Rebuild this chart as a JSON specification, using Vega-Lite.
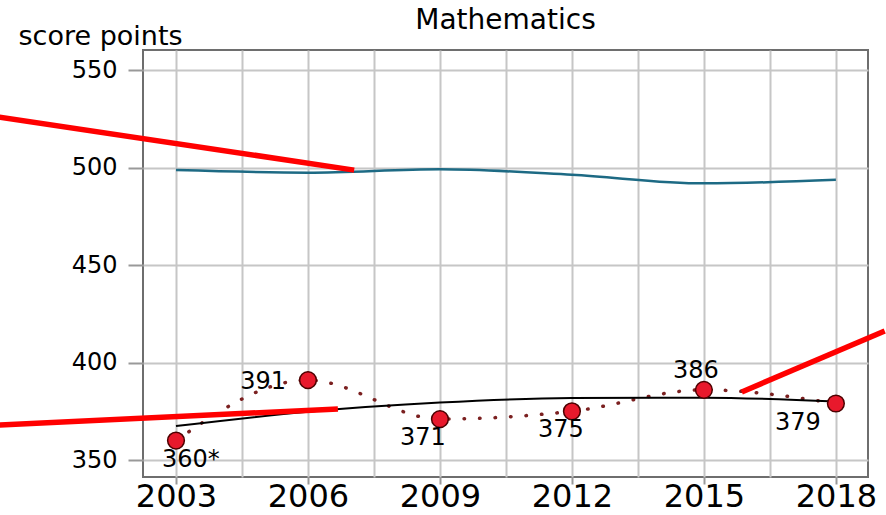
{
  "$schema": "https://vega.github.io/schema/vega-lite/v6.json",
  "width": 725,
  "height": 427,
  "autosize": "none",
  "padding": {"left": 143, "top": 50, "right": 18, "bottom": 38},
  "background": "white",
  "config": {
    "view": {"stroke": "#6e6e6e", "strokeWidth": 2},
    "font": "DejaVu Sans"
  },
  "title": {
    "text": "Mathematics",
    "fontSize": 28,
    "font": "DejaVu Sans",
    "fontWeight": "normal",
    "color": "black",
    "anchor": "middle",
    "frame": "group",
    "baseline": "alphabetic",
    "offset": -35
  },
  "datasets": {
    "country": [
      {"year": 2003, "score": 360, "label": "360*"},
      {"year": 2006, "score": 391, "label": "391"},
      {"year": 2009, "score": 371, "label": "371"},
      {"year": 2012, "score": 375, "label": "375"},
      {"year": 2015, "score": 386, "label": "386"},
      {"year": 2018, "score": 379, "label": "379"}
    ],
    "oecd": [
      {"year": 2003, "score": 498.7},
      {"year": 2006, "score": 497.4},
      {"year": 2009, "score": 499.1},
      {"year": 2012, "score": 496.3},
      {"year": 2015, "score": 491.9},
      {"year": 2018, "score": 493.7}
    ],
    "trend": [
      {"year": 2003, "score": 367.4},
      {"year": 2006, "score": 374.8},
      {"year": 2009, "score": 379.5},
      {"year": 2012, "score": 381.8},
      {"year": 2015, "score": 382.0},
      {"year": 2018, "score": 380.0}
    ],
    "arrows": [
      {"id": "a", "year": 1998.98, "score": 525.9},
      {"id": "a", "year": 2007.05, "score": 498.7},
      {"id": "b", "year": 1998.98, "score": 367.9},
      {"id": "b", "year": 2006.68, "score": 376.2},
      {"id": "c", "year": 2019.11, "score": 416.2},
      {"id": "c", "year": 2015.86, "score": 384.9}
    ]
  },
  "encoding": {
    "x": {
      "field": "year",
      "type": "quantitative",
      "scale": {"domain": [2002.25, 2018.73], "nice": false, "zero": false},
      "axis": {
        "title": null,
        "values": [2003, 2004.5, 2006, 2007.5, 2009, 2010.5, 2012, 2013.5, 2015, 2016.5, 2018],
        "grid": true,
        "gridColor": "#c6c6c6",
        "gridWidth": 2,
        "domain": false,
        "labelExpr": "datum.value % 3 == 2 ? '' + datum.value : ''",
        "labelOverlap": false,
        "labelFlush": false,
        "labelFontSize": 32,
        "labelColor": "black",
        "labelBaseline": "alphabetic",
        "labelPadding": 22,
        "tickSize": 7,
        "tickWidth": 2,
        "tickColor": {"condition": {"test": "datum.value % 3 == 2", "value": "#999999"}, "value": "transparent"}
      }
    },
    "y": {
      "field": "score",
      "type": "quantitative",
      "scale": {"domain": [341.3, 560.3], "nice": false, "zero": false},
      "axis": {
        "title": "score points",
        "titleAngle": 0,
        "titleAlign": "left",
        "titleBaseline": "alphabetic",
        "titleX": -125,
        "titleY": -6,
        "titleFontSize": 27,
        "titleFontWeight": "normal",
        "titleColor": "black",
        "values": [350, 400, 450, 500, 550],
        "format": "d",
        "grid": true,
        "gridColor": "#c6c6c6",
        "gridWidth": 2,
        "domain": false,
        "tickColor": "#999999",
        "tickSize": 15,
        "tickWidth": 2,
        "labelPadding": 11,
        "labelFontSize": 24,
        "labelColor": "black"
      }
    }
  },
  "layer": [
    {
      "data": {"name": "oecd"},
      "mark": {"type": "line", "color": "#1d6a84", "strokeWidth": 2.5, "interpolate": "monotone"}
    },
    {
      "data": {"name": "country"},
      "mark": {"type": "line", "color": "#7b2020", "strokeWidth": 3.5, "strokeDash": [0.5, 15], "strokeCap": "round", "interpolate": "monotone"}
    },
    {
      "data": {"name": "trend"},
      "mark": {"type": "line", "color": "black", "strokeWidth": 2, "interpolate": "monotone"}
    },
    {
      "data": {"name": "country"},
      "mark": {"type": "circle", "size": 280, "color": "#e8192c", "stroke": "#4d0000", "strokeWidth": 1.5, "opacity": 1}
    },
    {
      "data": {"name": "country"},
      "transform": [{"filter": "datum.year == 2003"}],
      "mark": {"type": "text", "fontSize": 24, "color": "black", "align": "left", "baseline": "middle", "dx": -14, "dy": 19},
      "encoding": {"text": {"field": "label"}}
    },
    {
      "data": {"name": "country"},
      "transform": [{"filter": "datum.year == 2006"}],
      "mark": {"type": "text", "fontSize": 24, "color": "black", "align": "right", "baseline": "middle", "dx": -22, "dy": 2},
      "encoding": {"text": {"field": "label"}}
    },
    {
      "data": {"name": "country"},
      "transform": [{"filter": "datum.year == 2009"}],
      "mark": {"type": "text", "fontSize": 24, "color": "black", "align": "center", "baseline": "middle", "dx": -17, "dy": 19},
      "encoding": {"text": {"field": "label"}}
    },
    {
      "data": {"name": "country"},
      "transform": [{"filter": "datum.year == 2012"}],
      "mark": {"type": "text", "fontSize": 24, "color": "black", "align": "center", "baseline": "middle", "dx": -11, "dy": 19},
      "encoding": {"text": {"field": "label"}}
    },
    {
      "data": {"name": "country"},
      "transform": [{"filter": "datum.year == 2015"}],
      "mark": {"type": "text", "fontSize": 24, "color": "black", "align": "center", "baseline": "middle", "dx": -8, "dy": -19},
      "encoding": {"text": {"field": "label"}}
    },
    {
      "data": {"name": "country"},
      "transform": [{"filter": "datum.year == 2018"}],
      "mark": {"type": "text", "fontSize": 24, "color": "black", "align": "center", "baseline": "middle", "dx": -38, "dy": 20},
      "encoding": {"text": {"field": "label"}}
    },
    {
      "data": {"name": "arrows"},
      "mark": {"type": "line", "color": "#ff0000", "strokeWidth": 5.5, "clip": false},
      "encoding": {"detail": {"field": "id"}}
    }
  ]
}
